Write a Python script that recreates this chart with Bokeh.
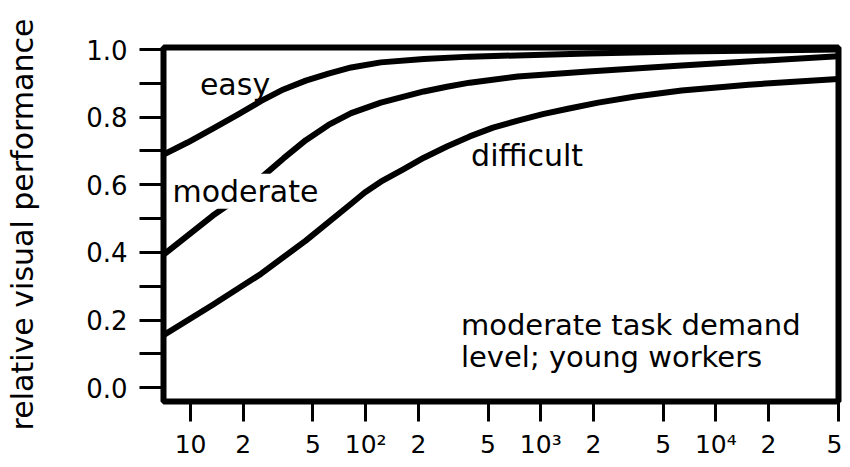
from bokeh.plotting import figure
from bokeh.models import FixedTicker, Label, PrintfTickFormatter
from bokeh.embed import file_html
from bokeh.resources import INLINE

# ---- data ----
x_easy = [7, 9.6, 13.4, 18.7, 25.3, 33.9, 45.5, 61.3, 82.6, 122, 215, 393, 1870, 6380, 50000]
y_easy = [0.689, 0.725, 0.766, 0.808, 0.848, 0.882, 0.908, 0.929, 0.947, 0.962, 0.972, 0.979, 0.988, 0.994, 1.0]

x_moderate = [7, 13.4, 17.1, 25.3, 33.9, 45.5, 61.3, 82.6, 122, 215, 291, 393, 740, 1870, 6380, 50000]
y_moderate = [0.393, 0.509, 0.547, 0.621, 0.678, 0.732, 0.777, 0.812, 0.843, 0.876, 0.89, 0.902, 0.92, 0.935, 0.953, 0.98]

x_difficult = [7, 13.4, 25.3, 45.5, 82.6, 98.8, 122, 163, 215, 291, 393, 534, 740, 1027, 1430, 2130, 3470, 6380, 15400, 50000]
y_difficult = [0.155, 0.245, 0.337, 0.435, 0.544, 0.577, 0.609, 0.645, 0.68, 0.713, 0.743, 0.769, 0.79, 0.809, 0.825, 0.843, 0.861, 0.879, 0.896, 0.913]

x_tick_values = [10, 20, 50, 100, 200, 500, 1000, 2000, 5000, 10000, 20000, 50000]
x_tick_labels = ["10", "2", "5", "10²", "2", "5", "10³", "2", "5", "10⁴", "2", "5"]

y_major_ticks = [0.0, 0.2, 0.4, 0.6, 0.8, 1.0]
y_minor_ticks = [0.1, 0.3, 0.5, 0.7, 0.9]

y_label = "relative visual performance"
curve_labels = [("easy", 11.3, 0.898), ("moderate", 7.87, 0.581), ("difficult", 400, 0.688)]
note_lines = [("moderate task demand", 350, 0.185), ("level; young workers", 350, 0.09)]

FONT = "DejaVu Sans"

p = figure(
    x_axis_type="log",
    x_range=(7, 50200),
    y_range=(-0.041, 1.006),
    frame_width=675,
    frame_height=354,
    min_border_left=163,
    min_border_right=4,
    min_border_top=47,
    min_border_bottom=58,
    output_backend="svg",
    toolbar_location=None,
)
p.xgrid.visible = False
p.ygrid.visible = False
p.outline_line_color = "black"
p.outline_line_width = 6
p.outline_line_alpha = 1.0
p.background_fill_color = "white"
p.border_fill_color = "white"

for xs, ys in [(x_easy, y_easy), (x_moderate, y_moderate), (x_difficult, y_difficult)]:
    p.line(xs, ys, line_color="black", line_width=6, line_join="round", line_cap="round")

# x axis
xa = p.xaxis[0]
xa.ticker = FixedTicker(ticks=x_tick_values)
xa.major_label_overrides = dict(zip(x_tick_values, x_tick_labels))
xa.axis_line_color = None
xa.major_tick_in = 0
xa.major_tick_out = 20
xa.major_tick_line_width = 3
xa.major_tick_line_color = "black"
xa.minor_tick_line_color = None
xa.major_label_standoff = 8
xa.major_label_text_font = FONT
xa.major_label_text_font_size = "25px"
xa.major_label_text_color = "black"

# y axis
ya = p.yaxis[0]
ya.ticker = FixedTicker(ticks=y_major_ticks, minor_ticks=y_minor_ticks)
ya.formatter = PrintfTickFormatter(format="%.1f")
ya.axis_line_color = None
ya.major_tick_in = 0
ya.major_tick_out = 24
ya.minor_tick_in = 0
ya.minor_tick_out = 24
ya.major_tick_line_width = 3
ya.minor_tick_line_width = 3
ya.major_tick_line_color = "black"
ya.minor_tick_line_color = "black"
ya.major_label_standoff = 12
ya.major_label_text_font = FONT
ya.major_label_text_font_size = "26px"
ya.major_label_text_color = "black"
ya.axis_label = y_label
ya.axis_label_text_font = FONT
ya.axis_label_text_font_size = "30px"
ya.axis_label_text_font_style = "normal"
ya.axis_label_text_color = "black"
ya.axis_label_standoff = 43

for txt, x, y in curve_labels:
    lab = Label(x=x, y=y, text=txt, text_font=FONT, text_font_size="30px",
                text_color="black", text_baseline="alphabetic", text_align="left")
    if txt == "moderate":
        lab.background_fill_color = "white"
        lab.background_fill_alpha = 1.0
    p.add_layout(lab)

for txt, x, y in note_lines:
    p.add_layout(Label(x=x, y=y, text=txt, text_font=FONT, text_font_size="29px",
                       text_color="black", text_baseline="alphabetic", text_align="left"))

open("out.html", "w").write(file_html(p, INLINE))
